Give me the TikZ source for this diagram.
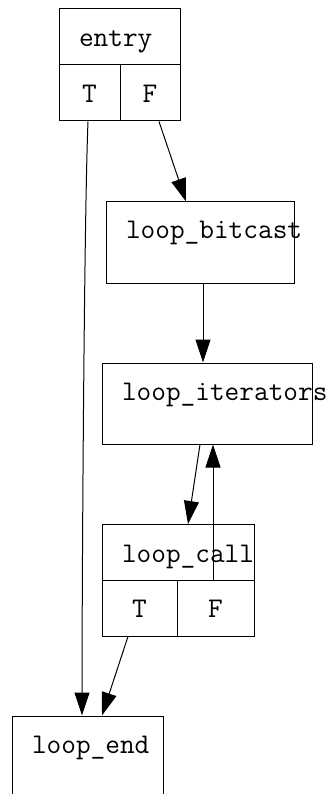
\documentclass[tikz,border=0pt]{standalone}
\usepackage{fontspec}
\usepackage{tikz}
\usetikzlibrary{arrows.meta}

\begin{document}
\begin{tikzpicture}[x=1pt, y=-1pt, font=\ttfamily\fontsize{28.5}{32}\selectfont, line width=1pt, >={Triangle[length=23pt,width=15pt]},
  blk/.style={draw, inner xsep=20pt, inner ysep=0pt, align=left, minimum height=81pt, text height=14pt, text depth=21pt},
  head/.style={blk, minimum height=56pt, text height=20pt, text depth=1pt},
  port/.style={draw, inner sep=0pt, minimum height=56pt, text height=20pt, text depth=1pt}]
\useasboundingbox (0,0) rectangle (332,794);
% record blocks: name cell on top, T/F ports below
\node[head, text width=81pt] (entry) at (119.5,37) {entry};
\node[port, minimum width=61pt] (entryT) at (89.5,93) {T};
\node[port, minimum width=60pt] (entryF) at (150,93) {F};
\node[blk, text width=148pt] (bitcast) at (200,242.5) {loop\_bitcast};
\node[blk, text width=170pt] (iters) at (207,403.5) {loop\_iterators};
\node[head, text width=112pt] (call) at (178,552.5) {loop\_call};
\node[port, minimum width=75pt] (callT) at (139.5,608) {T};
\node[port, minimum width=77pt] (callF) at (215.5,608) {F};
\node[blk, text width=111pt] (lend) at (87.5,756.5) {loop\_end};
\draw[->] ([xshift=-1.5]entryT.south) .. controls (84,220) and (82,600) .. ([xshift=-5.5]lend.north);
\draw[->] ([xshift=9]entryF.south) -- ([xshift=-14]bitcast.north);
\draw[->] ([xshift=3]bitcast.south) -- ([xshift=-4]iters.north);
\draw[->] ([xshift=-7]iters.south) -- ([xshift=10]call.north);
\draw[->] ([xshift=-2.5]callF.north) -- ([xshift=6]iters.south);
\draw[->] ([xshift=-11.5]callT.south) -- ([xshift=14.5]lend.north);
\end{tikzpicture}
\end{document}
